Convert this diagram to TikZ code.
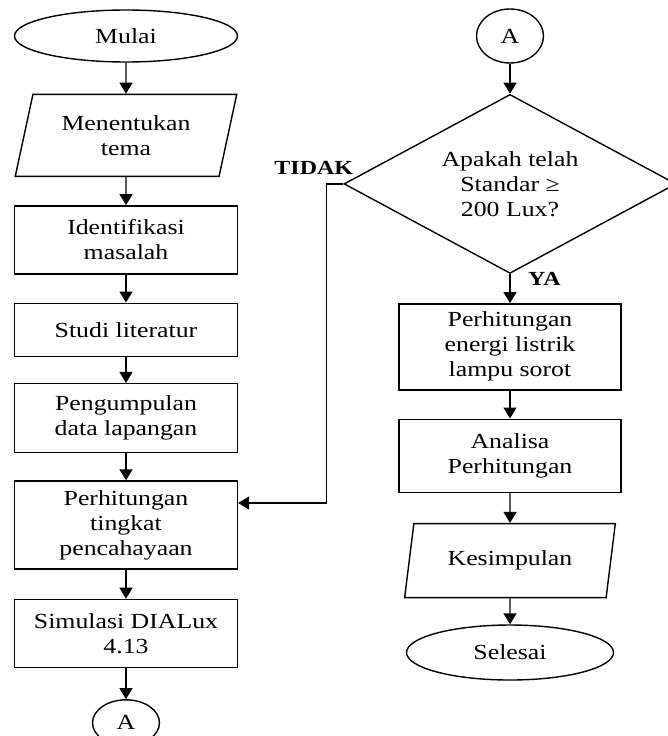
\documentclass[tikz,border=0pt]{standalone}
\usepackage{fontspec}
\setmainfont{Liberation Serif}[FakeStretch=1.2]
\usetikzlibrary{positioning,shapes.geometric,arrows.meta}

\begin{document}
\begin{tikzpicture}[x=1pt, y=-1pt,
                    node distance=28pt,
                    every node/.style={font=\fontsize{21.5}{25}\selectfont, align=center, inner sep=0pt},
                    box/.style={draw, line width=1.4pt, minimum width=223pt},
                    io/.style={draw, line width=1.4pt, trapezium, trapezium left angle=73,
                               trapezium right angle=107, trapezium stretches=true, minimum width=222pt},
                    ujung/.style={draw, line width=1.4pt, ellipse},
                    konektor/.style={draw, line width=1.4pt, ellipse, minimum width=67pt, minimum height=54pt},
                    putusan/.style={draw, line width=1.4pt, diamond, aspect=1.85,
                                    minimum width=332pt, minimum height=179pt},
                    panah/.style={line width=1.4pt, -{Triangle[length=11pt,width=13pt]}},
                    ket/.style={font=\bfseries\fontsize{20}{24}\selectfont}]
              \useasboundingbox (0,0) rectangle (668,736);

              \node[ujung, minimum width=223pt, minimum height=52pt] (mulai) at (126,36) {Mulai};
              \node[io, minimum height=82pt, below=31pt of mulai] (tema) {Menentukan\\tema};
              \node[box, minimum height=68pt, below=of tema] (identifikasi) {Identifikasi\\masalah};
              \node[box, minimum height=53pt, below=of identifikasi] (studi) {Studi literatur};
              \node[box, minimum height=69pt, below=26pt of studi] (kumpul) {Pengumpulan\\data lapangan};
              \node[box, minimum height=88pt, below=27pt of kumpul] (hitung) {Perhitungan\\tingkat\\pencahayaan};
              \node[box, minimum height=68pt, below=29pt of hitung] (simulasi) {Simulasi DIALux\\4.13};
              \node[konektor, minimum height=46pt, below=31pt of simulasi] (a1) {A};

              \node[konektor] (a2) at (510,36) {A};
              \node[putusan, below=30pt of a2] (cek) {Apakah telah\\Standar ≥\\200 Lux?};
              \node[box, minimum width=222pt, minimum height=86pt, below=29pt of cek] (energi) {Perhitungan\\energi listrik\\lampu sorot};
              \node[box, minimum width=222pt, minimum height=73pt, below=of energi] (analisa) {Analisa\\Perhitungan};
              \node[io, minimum width=211pt, minimum height=74pt, below=30pt of analisa] (simpul) {Kesimpulan};
              \node[ujung, minimum width=207pt, minimum height=55pt, below=26pt of simpul] (selesai) {Selesai};

              \node[ket, above left=9pt and -10pt of cek.west] (tidak) {TIDAK};
              \node[ket, below right=-2pt and 18pt of cek.south] (ya) {YA};

              \draw[panah] (mulai) -- (tema);
              \draw[panah] (tema) -- (identifikasi);
              \draw[panah] (identifikasi) -- (studi);
              \draw[panah] (studi) -- (kumpul);
              \draw[panah] (kumpul) -- (hitung);
              \draw[panah] (hitung) -- (simulasi);
              \draw[panah] (simulasi) -- (a1);

              \draw[panah] (a2) -- (cek);
              \draw[panah] (cek) -- (energi);
              \draw[panah] (energi) -- (analisa);
              \draw[panah] (analisa) -- (simpul);
              \draw[panah] (simpul) -- (selesai);
              \draw[panah] (cek.west) -- ++(-17,0) coordinate (belok) |- ([yshift=22pt]hitung.east);
            \end{tikzpicture}
\end{document}
